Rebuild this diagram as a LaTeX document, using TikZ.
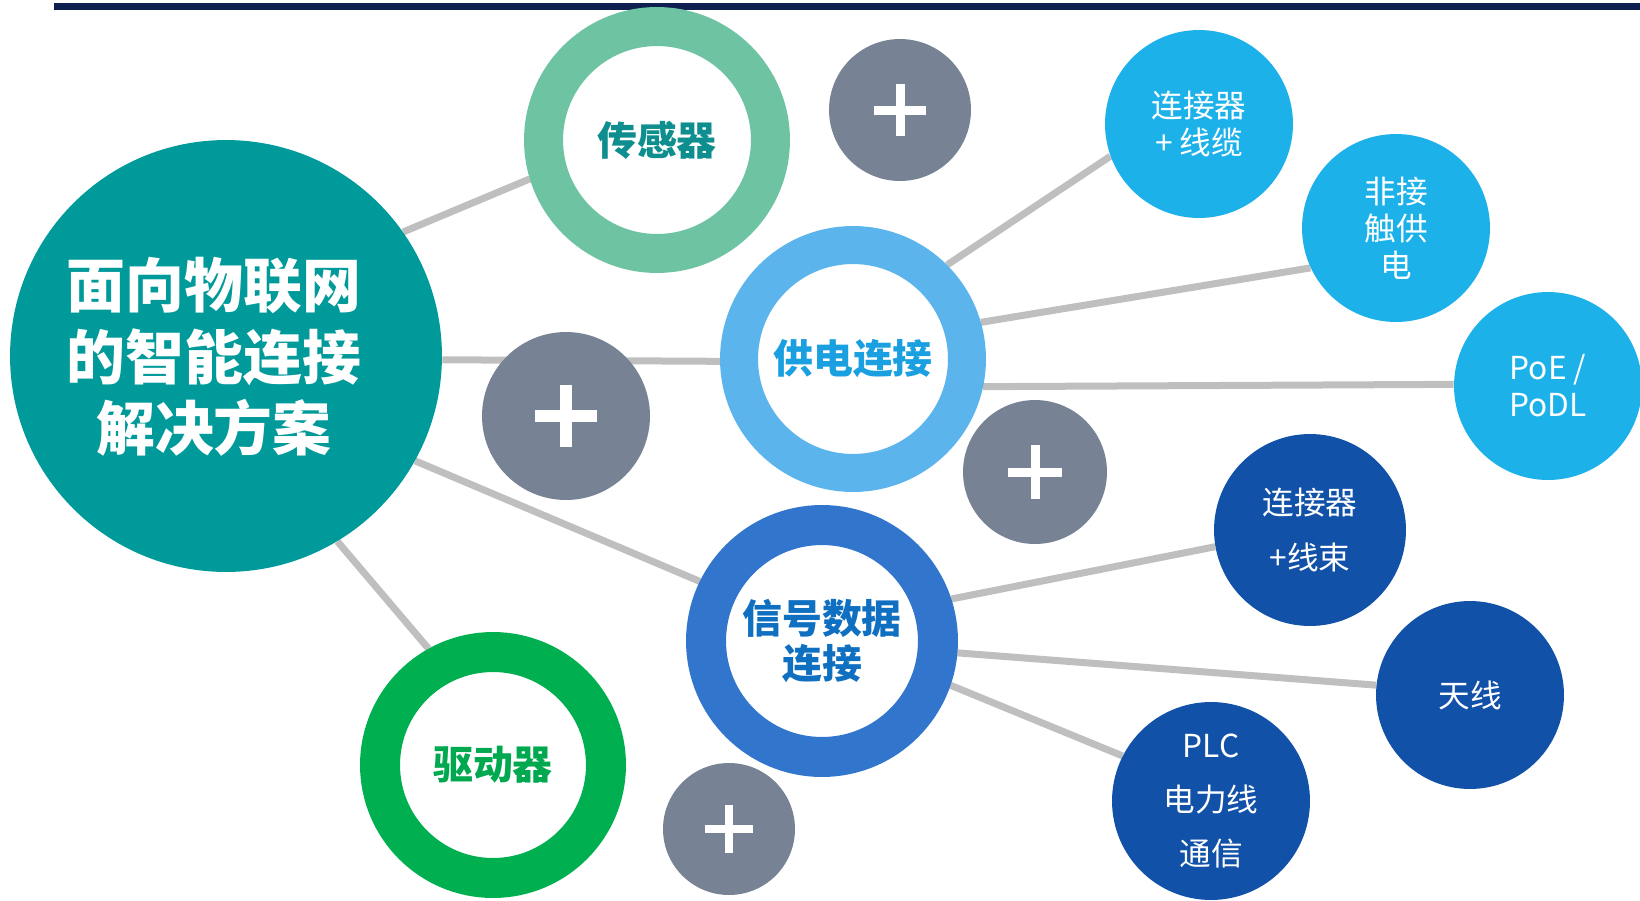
\documentclass[tikz,border=0pt]{standalone}
\usepackage{fontspec}
\setmainfont{Noto Sans CJK SC}
\usetikzlibrary{backgrounds}

\definecolor{barblue}{HTML}{0E1F50}
\definecolor{mainteal}{HTML}{009A9A}
\definecolor{sensorgreen}{HTML}{6EC4A2}
\definecolor{sensortext}{HTML}{0E8E8E}
\definecolor{powerblue}{HTML}{5BB5EC}
\definecolor{powertext}{HTML}{1AA0E0}
\definecolor{signalblue}{HTML}{3175CC}
\definecolor{signaltext}{HTML}{0F6FC0}
\definecolor{drivegreen}{HTML}{00B050}
\definecolor{drivetext}{HTML}{00A84F}
\definecolor{plusgray}{HTML}{778394}
\definecolor{skyblue}{HTML}{1DB1EA}
\definecolor{deepblue}{HTML}{1151A8}
\definecolor{linkgray}{HTML}{BFBFBF}

\tikzset{
  ring/.style={circle,draw=#1,fill=white,inner sep=0pt,line width=0.78cm,minimum size=4.54cm,align=center,font=\bfseries\fontsize{22.7}{26}\selectfont},
  plusdot/.style={circle,fill=plusgray,inner sep=0pt},
  plusbar/.style={white,line width=0.18cm},
  leaf/.style={circle,fill=#1,text=white,inner sep=0pt,minimum size=3.76cm,align=center,font=\fontsize{18}{21}\selectfont},
  link/.style={linkgray,line width=0.14cm}
}

\begin{document}
\begin{tikzpicture}[x=0.02cm,y=-0.02cm]

\useasboundingbox (0,0) rectangle (1640,900);

% Top bar
\fill[barblue] (54,3) rectangle (1640,10);

% Main circle
\node[circle,fill=mainteal,minimum size=8.64cm,inner sep=0pt] (iot) at (226,356) {};
\node[text=white,align=center,font=\bfseries\fontsize{33.5}{40.8}\selectfont] (iottext) at (214,357) {面向物联网\\的智能连接\\解决方案};

% Rings
\node[ring=sensorgreen,text=sensortext] (sensor) at (657,140) {传感器};
\node[ring=powerblue,text=powertext,line width=0.76cm,minimum size=4.56cm] (power) at (853,359) {供电连接};
\node[ring=signalblue,text=signaltext,line width=0.8cm,minimum size=4.64cm] (signal) at (822,641) {信号数据\\连接};
\node[ring=drivegreen,text=drivetext,line width=0.8cm,minimum size=4.52cm] (drive) at (493,765) {驱动器};

% Plus
\node[plusdot,minimum size=2.84cm] (p1) at (900,110) {};
\node[plusdot,minimum size=3.36cm] (p2) at (566,416) {};
\node[plusdot,minimum size=2.88cm] (p3) at (1035,472) {};
\node[plusdot,minimum size=2.64cm] (p4) at (729,829) {};
\draw[plusbar] (p1.center) +(-26,0) -- +(26,0) (p1.center) +(0,-26) -- +(0,26);
\draw[plusbar,line width=0.24cm] (p2.center) +(-31,0) -- +(31,0) (p2.center) +(0,-31) -- +(0,31);
\draw[plusbar] (p3.center) +(-27,0) -- +(27,0) (p3.center) +(0,-27) -- +(0,27);
\draw[plusbar,line width=0.16cm] (p4.center) +(-24,0) -- +(24,0) (p4.center) +(0,-24) -- +(0,24);

% Power leaves
\node[leaf=skyblue] (cable) at (1199,124) {连接器\\+ 线缆};
\node[leaf=skyblue] (wireless) at (1396,228) {非接\\触供\\电};
\node[leaf=skyblue] (poe) at (1548,386) {PoE /\\PoDL};

% Signal leaves
\node[leaf=deepblue,minimum size=3.84cm,font=\fontsize{18}{31}\selectfont] (harness) at (1310,530) {连接器\\+线束};
\node[leaf=deepblue] (antenna) at (1470,695) {天线};
\node[leaf=deepblue,minimum size=3.96cm,font=\fontsize{18}{31}\selectfont] (plc) at (1211,801) {PLC\\电力线\\通信};

% Links
\begin{scope}[on background layer]
\draw[link] (iot.35) -- (sensor.197);
\draw[link] (iot.-1) -- (power.181);
\draw[link] (iot.-29) -- (signal.154);
\draw[link] (iot.-59) -- (drive.119);
\draw[link] (power.45) -- (cable.200);
\draw[link] (power.16) -- (wireless.205);
\draw[link] (power.-12) -- (poe.179);
\draw[link] (signal.18) -- (harness.190);
\draw[link] (signal.-5) -- (antenna.174);
\draw[link] (signal.-19) -- (plc.153);
\end{scope}

\end{tikzpicture}
\end{document}
